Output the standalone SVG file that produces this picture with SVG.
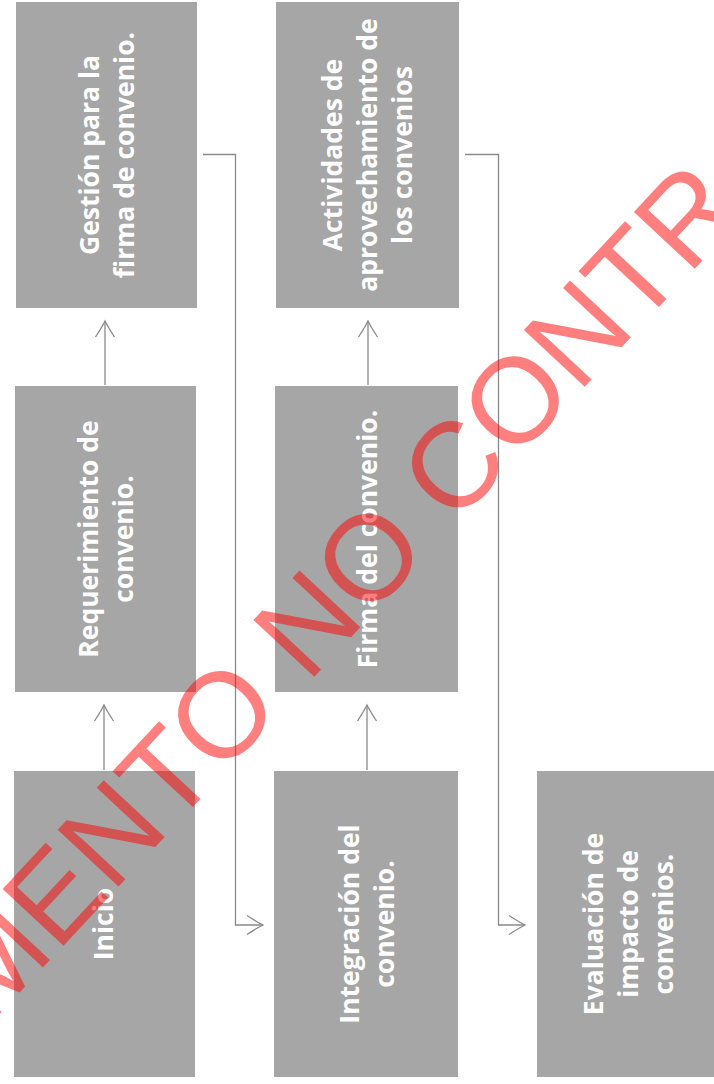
<svg xmlns="http://www.w3.org/2000/svg" width="714" height="1084" viewBox="0 0 714 1084">
<style>
.box{fill:#a6a6a6;}
.lbl{font-family:"Open Sans","DejaVu Sans",sans-serif;font-weight:700;font-size:26.5px;fill:#ffffff;text-anchor:middle;}
.conn{fill:none;stroke:#8a8a8a;stroke-width:1.3;}
.wm{font-family:"Liberation Sans",Arial,sans-serif;font-size:121px;fill:#ff0000;fill-opacity:0.5;}
</style>
<defs>
<marker id="arr" viewBox="-18 -11 20 22" refX="0" refY="0" markerWidth="20" markerHeight="22" markerUnits="userSpaceOnUse" orient="auto">
<path d="M-16,-9.5 Q-6,-3 0,0 Q-6,3 -16,9.5" fill="none" stroke="#8a8a8a" stroke-width="1.3"/>
</marker>
</defs>
<rect width="714" height="1084" fill="#ffffff"/>
<g id="connectors">
<path class="conn" d="M104,770 V705" marker-end="url(#arr)"/>
<path class="conn" d="M105,385 V321" marker-end="url(#arr)"/>
<path class="conn" d="M367,770 V705" marker-end="url(#arr)"/>
<path class="conn" d="M368,385 V321" marker-end="url(#arr)"/>
<path class="conn" d="M203,154.5 H235.5 V925 H263" marker-end="url(#arr)"/>
<path class="conn" d="M465,154.5 H498.5 V925 H525" marker-end="url(#arr)"/>
</g>
<g id="n_gestion">
<rect class="box" x="16" y="2" width="181" height="306"/>
<text class="lbl" transform="translate(106.5,155) rotate(-90)"><tspan x="0" y="-8">Gestión para la</tspan><tspan x="0" y="27">firma de convenio.</tspan></text>
</g>
<g id="n_actividades">
<rect class="box" x="276" y="2" width="183" height="306"/>
<text class="lbl" transform="translate(367.5,155) rotate(-90)"><tspan x="0" y="-25.5">Actividades de</tspan><tspan x="0" y="9.5">aprovechamiento de</tspan><tspan x="0" y="44.5">los convenios</tspan></text>
</g>
<g id="n_requerimiento">
<rect class="box" x="15" y="386" width="181" height="306"/>
<text class="lbl" transform="translate(105.5,539) rotate(-90)"><tspan x="0" y="-8">Requerimiento de</tspan><tspan x="0" y="27">convenio.</tspan></text>
</g>
<g id="n_firma">
<rect class="box" x="275" y="386" width="183" height="306"/>
<text class="lbl" transform="translate(366.5,539) rotate(-90)"><tspan x="0" y="10">Firma del convenio.</tspan></text>
</g>
<g id="n_inicio">
<rect class="box" x="14" y="771" width="181" height="306"/>
<text class="lbl" transform="translate(104.5,924) rotate(-90)"><tspan x="0" y="8.5">Inicio</tspan></text>
</g>
<g id="n_integracion">
<rect class="box" x="274" y="771" width="184" height="306"/>
<text class="lbl" transform="translate(366,924) rotate(-90)"><tspan x="0" y="-7">Integración del</tspan><tspan x="0" y="28">convenio.</tspan></text>
</g>
<g id="n_evaluacion">
<rect class="box" x="537" y="771" width="183" height="306"/>
<text class="lbl" transform="translate(628.5,924) rotate(-90)"><tspan x="0" y="-25.5">Evaluación de</tspan><tspan x="0" y="9.5">impacto de</tspan><tspan x="0" y="44.5">convenios.</tspan></text>
</g>
<text class="wm" transform="translate(-12,1026.6) rotate(-47)">MENTO NO CONTR</text>
</svg>
